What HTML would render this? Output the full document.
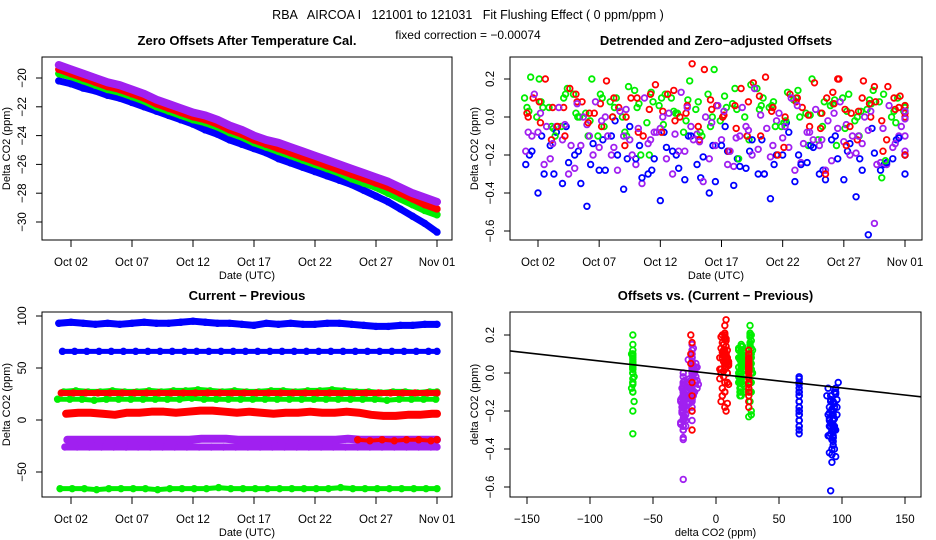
<!DOCTYPE html>
<html><head><meta charset="utf-8">
<style>
html,body{margin:0;padding:0;background:#fff;}
svg{display:block;font-family:"Liberation Sans",sans-serif;}
.pre{white-space:pre;}
</style></head>
<body>
<svg id="chart" width="936" height="540" viewBox="0 0 936 540">
<text class="pre" xml:space="preserve" x="468" y="19" text-anchor="middle" font-size="12.5">RBA   AIRCOA I   121001 to 121031   Fit Flushing Effect ( 0 ppm/ppm )</text>
<text x="468" y="39" text-anchor="middle" font-size="12">fixed correction = −0.00074</text>
</svg>
<script>
// ---------- data ----------
const dayTicks = [1,6,11,16,21,26,31];
const dayTickLabels = ["Oct 02","Oct 07","Oct 12","Oct 17","Oct 22","Oct 27","Nov 01"];
const zeroDays = [0,1,2,3,4,5,6,7,8,9,10,11,12,13,14,15,16,17,18,19,20,21,22,23,24,25,26,27,28,29,30,31];
const zeroBlue   = [-20.2,-20.4,-20.7,-20.9,-21.2,-21.4,-21.7,-22.0,-22.3,-22.6,-22.9,-23.2,-23.6,-23.9,-24.3,-24.6,-24.9,-25.2,-25.6,-25.9,-26.2,-26.5,-26.8,-27.1,-27.4,-27.8,-28.2,-28.6,-29.1,-29.6,-30.1,-30.7];
const zeroGreen  = [-19.7,-19.9,-20.2,-20.5,-20.8,-21.0,-21.3,-21.6,-22.0,-22.3,-22.6,-22.9,-23.1,-23.4,-23.8,-24.1,-24.5,-24.8,-25.1,-25.4,-25.7,-26.0,-26.3,-26.6,-27.0,-27.3,-27.6,-28.0,-28.4,-28.8,-29.2,-29.5];
const zeroRed    = [-19.4,-19.7,-20.0,-20.3,-20.6,-20.8,-21.1,-21.4,-21.8,-22.1,-22.4,-22.7,-22.9,-23.2,-23.6,-23.9,-24.3,-24.6,-24.9,-25.2,-25.5,-25.8,-26.1,-26.4,-26.7,-27.0,-27.3,-27.6,-28.0,-28.4,-28.8,-29.1];
const zeroPurple = [-19.1,-19.4,-19.7,-20.0,-20.3,-20.5,-20.8,-21.1,-21.5,-21.8,-22.1,-22.4,-22.6,-22.9,-23.3,-23.6,-24.0,-24.3,-24.5,-24.8,-25.1,-25.4,-25.7,-26.0,-26.3,-26.6,-26.9,-27.2,-27.6,-28.0,-28.3,-28.6];

// sub-series: current-previous values and detrended offsets
const greenA_cp  = [-66,-66,-66,-67,-66,-66,-66,-66,-67,-66,-66,-66,-66,-65,-66,-66,-66,-66,-66,-66,-66,-66,-66,-65,-66,-66,-66,-66,-66,-66,-66,-66];
const greenA_off = [0.05,0.2,-0.05,0.1,0.02,-0.1,0.12,0.0,-0.08,0.05,-0.2,0.1,0.03,-0.02,0.08,-0.05,0.0,0.15,-0.1,0.04,0.06,-0.03,0.1,-0.15,0.02,0.07,-0.06,0.0,0.09,-0.32,0.03,0.05];
const greenB_cp  = [20,20,20,19,20,20,20,20,20,20,20,21,20,20,20,20,20,20,20,20,20,20,20,20,20,20,20,19,20,20,20,20];
const greenB_off = [0.1,0.0,0.05,-0.05,0.12,0.02,-0.1,0.08,0.0,0.14,-0.03,0.06,0.1,-0.08,0.04,0.12,-0.02,0.07,0.0,0.15,0.05,-0.05,0.09,0.02,-0.12,0.06,0.1,-0.02,0.04,0.08,0.0,0.03];
const greenC_cp  = [27,28,27,27,28,27,27,28,27,28,28,29,28,27,28,27,27,28,28,27,28,28,29,28,27,27,26,27,27,26,27,27];
const greenC_off = [0.21,0.05,-0.1,0.15,0.0,0.2,-0.05,0.1,0.16,-0.2,0.08,0.12,0.02,0.19,-0.1,0.25,0.05,-0.22,0.17,0.1,-0.05,0.13,0.0,0.2,0.08,-0.15,0.12,0.03,0.14,-0.23,0.1,0.06];
const greenD_cp  = [18,19,21,22,19,18,20,21,22,19,18,20,22,21,19,18,20,21,19,22,18,20,21,19,18,22,20,19,21,18,20,22];
const greenD_off = [0.03,0.08,-0.06,0.12,0.0,-0.02,0.1,0.05,-0.1,0.07,0.13,-0.04,0.02,0.09,-0.08,0.0,0.11,0.04,-0.12,0.06,0.08,-0.02,0.14,0.01,-0.05,0.09,0.03,-0.1,0.07,0.12,-0.03,0.05];
const redA_cp    = [-19,-20,-19,-20,-19,-19,-20,-19];
const redA_off   = [-0.3,0.2,-0.05,0.1,0.16,-0.12,0.05,-0.2];
const redB_cp    = [6,7,7,6,5,7,7,8,8,7,8,9,9,8,7,8,7,6,7,7,8,7,7,8,7,5,4,4,5,5,6,6];
const redB_off   = [0.1,0.2,-0.05,0.15,0.08,0.02,0.19,0.05,0.1,-0.1,0.17,0.12,0.0,0.28,0.25,0.06,-0.18,0.15,0.18,0.21,-0.2,0.12,0.05,0.18,0.1,0.2,0.02,0.19,0.08,0.16,0.11,0.06];
const redD_cp    = [4,9,5,10,6,3,8,9,4,7,10,5,8,3,9,6,4,10,7,5,8,9,3,6,10,4,7,5,9,6,8,4];
const redD_off   = [0.02,0.08,-0.12,0.05,0.12,-0.03,0.07,0.0,-0.15,0.1,0.04,-0.08,0.14,0.02,-0.05,0.09,0.0,0.06,-0.1,0.11,0.03,-0.16,0.08,0.01,-0.06,0.13,0.04,-0.12,0.07,-0.02,0.1,0.0];
const redC_cp    = [26,26,26,26,26,26,26,26,26,26,26,26,26,26,26,26,26,26,26,26,26,26,26,26,26,26,26,26,26,26,26,26];
const redC_off   = [0.0,-0.03,0.05,-0.1,0.08,0.02,-0.05,0.1,0.0,-0.08,0.12,0.03,-0.02,0.06,-0.12,0.04,0.01,-0.06,0.08,-0.1,0.05,0.0,0.1,-0.05,0.02,0.07,-0.15,0.03,0.0,-0.18,0.04,0.02];
const purpleA_cp = [-26,-26,-26,-26,-26,-26,-26,-26,-26,-26,-26,-26,-26,-26,-26,-26,-26,-26,-26,-26,-26,-26,-26,-26,-26,-26,-26,-26,-26,-26,-26,-26];
const purpleA_off= [-0.1,-0.25,-0.05,-0.3,-0.15,-0.2,0.0,-0.28,-0.12,-0.35,-0.08,-0.22,-0.18,-0.05,-0.34,-0.15,-0.25,-0.1,-0.2,-0.3,-0.02,-0.16,-0.24,-0.12,-0.28,-0.06,-0.2,-0.14,-0.56,-0.25,-0.1,-0.18];
const purpleC_cp = [-25,-27,-24,-26,-28,-25,-23,-27,-26,-24,-28,-25,-26,-27,-24,-26,-25,-28,-23,-26,-27,-25,-24,-26,-28,-25,-27,-24,-26,-25,-27,-26];
const purpleC_off= [-0.18,-0.08,-0.22,-0.12,-0.27,-0.04,-0.16,-0.2,-0.1,-0.25,-0.14,-0.06,-0.3,-0.18,-0.09,-0.22,-0.12,-0.26,-0.05,-0.17,-0.21,-0.11,-0.28,-0.08,-0.15,-0.23,-0.13,-0.19,-0.07,-0.24,-0.16,-0.1];
const purpleB_cp = [-19,-19,-19,-19,-19,-19,-19,-19,-19,-19,-19,-18,-18,-18,-19,-19,-19,-19,-19,-19,-19,-19,-19,-18,-19,-19,-19,-19,-19,-19,-19,-19];
const purpleB_off= [0.12,-0.05,0.05,-0.15,0.0,0.08,-0.1,0.03,-0.2,0.1,-0.08,0.02,0.13,-0.12,0.0,0.06,-0.18,0.05,0.15,-0.06,0.02,0.1,-0.14,0.04,-0.02,0.08,-0.1,0.0,-0.25,0.06,-0.05,0.03];
const purpleD_cp = [-21,-17,-20,-15,-22,-18,-16,-21,-19,-14,-20,-17,-22,-16,-19,-21,-15,-18,-20,-17,-22,-16,-19,-15,-21,-18,-20,-17,-16,-22,-19,-18];
const purpleD_off= [-0.08,0.02,-0.14,-0.04,0.07,-0.1,-0.02,-0.16,0.04,-0.06,-0.12,0.0,-0.09,0.05,-0.13,-0.03,0.03,-0.11,-0.07,0.01,-0.15,-0.05,0.06,-0.08,-0.12,0.02,-0.04,-0.1,0.03,-0.06,-0.14,-0.01];
const blueA_cp   = [66,66,66,66,66,66,66,66,66,66,66,66,66,66,66,66,66,66,66,66,66,66,66,66,66,66,66,66,66,66,66,66];
const blueA_off  = [-0.2,-0.1,-0.3,-0.05,-0.18,-0.25,-0.12,-0.02,-0.22,-0.15,-0.28,-0.08,-0.2,-0.1,-0.32,-0.15,-0.05,-0.22,-0.18,-0.12,-0.25,-0.03,-0.2,-0.15,-0.28,-0.1,-0.18,-0.22,-0.06,-0.25,-0.12,-0.2];
const blueB_cp   = [93,94,93,92,93,92,93,94,93,93,94,95,94,93,93,92,91,93,92,93,92,92,93,93,92,91,90,90,91,91,92,92];
const blueB_off  = [-0.25,-0.4,-0.15,-0.35,-0.2,-0.47,-0.28,-0.1,-0.38,-0.22,-0.3,-0.44,-0.18,-0.33,-0.25,-0.4,-0.15,-0.36,-0.27,-0.3,-0.43,-0.2,-0.34,-0.24,-0.3,-0.12,-0.33,-0.42,-0.62,-0.28,-0.22,-0.3];
const blueC_cp   = [90,95,89,94,92,96,90,93,97,91,89,94,92,95,90,93,96,91,88,94,92,95,90,93,89,96,91,94,92,90,95,93];
const blueC_off  = [-0.18,-0.3,-0.08,-0.24,-0.35,-0.14,-0.28,-0.2,-0.05,-0.32,-0.22,-0.16,-0.27,-0.1,-0.21,-0.34,-0.18,-0.26,-0.12,-0.3,-0.2,-0.08,-0.25,-0.16,-0.33,-0.22,-0.14,-0.28,-0.19,-0.24,-0.11,-0.2];
const fitSlope = [-0.00074];
const fitIntercept = [-0.005];

// ---------- rendering ----------
const NS = "http://www.w3.org/2000/svg";
const svg = document.getElementById("chart");
function mk(tag, attrs, parent){ const e=document.createElementNS(NS,tag); for(const k in attrs) e.setAttribute(k,attrs[k]); (parent||svg).appendChild(e); return e; }
function lin(d0,d1,r0,r1){ return v => r0 + (v-d0)*(r1-r0)/(d1-d0); }

const COL = {blue:"#0000ff", green:"#00ee00", red:"#ff0000", purple:"#a020f0"};
const subs = [
 {name:"green-a",col:"green",start:-0.2,cp:greenA_cp,off:greenA_off,phase:0.3,w:5,line:true},
 {name:"blue-a",col:"blue",start:-0.2,cp:blueA_cp,off:blueA_off,phase:0.5,w:5,line:true},
 {name:"green-b",col:"green",start:-0.2,cp:greenB_cp,off:greenB_off,phase:0.1,w:5,line:true},
 {name:"green-d",col:"green",start:-0.2,cp:greenD_cp,off:greenD_off,phase:0.45,w:5,line:false},
 {name:"purple-a",col:"purple",start:-0.2,cp:purpleA_cp,off:purpleA_off,phase:0.7,w:7,line:true},
 {name:"purple-c",col:"purple",start:-0.2,cp:purpleC_cp,off:purpleC_off,phase:0.2,w:7,line:false},
 {name:"blue-b",col:"blue",start:-0.2,cp:blueB_cp,off:blueB_off,phase:0.2,w:7,line:true},
 {name:"blue-c",col:"blue",start:-0.2,cp:blueC_cp,off:blueC_off,phase:0.7,w:7,line:false},
 {name:"green-c",col:"green",start:-0.2,cp:greenC_cp,off:greenC_off,phase:0.6,w:6,line:true},
 {name:"red-c",col:"red",start:-0.2,cp:redC_cp,off:redC_off,phase:0.4,w:6,line:true},
 {name:"red-b",col:"red",start:-0.2,cp:redB_cp,off:redB_off,phase:0.8,w:8,line:true},
 {name:"red-d",col:"red",start:-0.2,cp:redD_cp,off:redD_off,phase:0.3,w:8,line:false},
 {name:"purple-b",col:"purple",start:-0.2,cp:purpleB_cp,off:purpleB_off,phase:0.9,w:8,line:true},
 {name:"purple-d",col:"purple",start:-0.2,cp:purpleD_cp,off:purpleD_off,phase:0.4,w:8,line:false},
 {name:"red-a",col:"red",start:24,cp:redA_cp,off:redA_off,phase:0.5,w:4,line:true}
];
function dayOf(s,i){ return Math.min(31, s.start + i + s.phase); }

function panel(o){
  const g = mk("g",{});
  
  
  const t = mk("text",{x:(o.x0+o.x1)/2,y:o.y0-12,"text-anchor":"middle","font-size":"13","font-weight":"bold"},g);
  t.textContent = o.title;
  
  
  const bx = mk("rect",{x:o.x0,y:o.y0,width:o.x1-o.x0,height:o.y1-o.y0,fill:"none",stroke:"#000","stroke-width":1},g);
  
  
  const xa = mk("g",{},g);
  
  
  const xs=o.xs(o.xt[0]), xe=o.xs(o.xt[o.xt.length-1]);
  mk("line",{x1:xs,x2:xe,y1:o.y1,y2:o.y1,stroke:"#000"},xa);
  o.xt.forEach((v,i)=>{
    const X=o.xs(v);
    mk("line",{x1:X,x2:X,y1:o.y1,y2:o.y1+7,stroke:"#000"},xa);
    const tl=mk("text",{x:X,y:o.y1+26,"text-anchor":"middle","font-size":"11.5"},xa);
    tl.textContent=o.xl[i];
    
    
  });
  const xt=mk("text",{x:(o.x0+o.x1)/2,y:o.y1+39,"text-anchor":"middle","font-size":"11"},g);
  xt.textContent=o.xtitle;
  
  
  const ya = mk("g",{},g);
  
  
  mk("line",{x1:o.x0,x2:o.x0,y1:o.ys(o.yt[0]),y2:o.ys(o.yt[o.yt.length-1]),stroke:"#000"},ya);
  o.yt.forEach((v,i)=>{
    const Y=o.ys(v);
    mk("line",{x1:o.x0-6,x2:o.x0,y1:Y,y2:Y,stroke:"#000"},ya);
    const tl=mk("text",{x:o.x0-16,y:Y,"text-anchor":"middle","font-size":"11.5",transform:`rotate(-90 ${o.x0-16} ${Y})`},ya);
    tl.textContent=o.yl[i];
    
    
  });
  const cy=(o.y0+o.y1)/2, cx=o.x0-32;
  const yt=mk("text",{x:cx,y:cy,"text-anchor":"middle","font-size":"11",transform:`rotate(-90 ${cx} ${cy})`},g);
  yt.textContent=o.ytitle;
  
  
  const clipId="c"+o.name;
  const cp=mk("clipPath",{id:clipId},g); mk("rect",{x:o.x0,y:o.y0,width:o.x1-o.x0,height:o.y1-o.y0},cp);
  const plot=mk("g",{"clip-path":`url(#${clipId})`},g);
  
  
  return plot;
}
function circ(parent,x,y,col,name){
  const c=mk("circle",{cx:x,cy:y,r:2.8,fill:"none",stroke:col,"stroke-width":1.8},parent);
  
  
}

// Panel 1: zero offsets
{
  const xs=lin(1,31,71,437), ys=lin(-20,-30,78,222);
  const p=panel({name:"zero-offsets-panel",title:"Zero Offsets After Temperature Cal.",x0:42,x1:452,y0:57,y1:240,xs,ys,
    xt:dayTicks,xl:dayTickLabels,yt:[-20,-22,-24,-26,-28,-30],yl:["−20","−22","−24","−26","−28","−30"],xtitle:"Date (UTC)",ytitle:"Delta CO2 (ppm)"});
  [["blue",zeroBlue],["green",zeroGreen],["red",zeroRed],["purple",zeroPurple]].forEach(([c,arr])=>{
    const pts=arr.map((v,i)=>`${xs(Math.max(-0.2,zeroDays[i]))},${ys(v)}`).join(" ");
    const pl=mk("polyline",{points:pts,fill:"none",stroke:COL[c],"stroke-width":c==="purple"?8:7,"stroke-linejoin":"round","stroke-linecap":"round"},p);
    
    
    arr.forEach((v,i)=>circ(p,xs(Math.max(-0.2,zeroDays[i])),ys(v),COL[c],'zero-offset-point-'+c));
  });
}
// Panel 2: detrended offsets
{
  const xs=lin(1,31,538,905), ys=lin(0.2,-0.6,79,231);
  const p=panel({name:"detrended-offsets-panel",title:"Detrended and Zero−adjusted Offsets",x0:510,x1:922,y0:57,y1:240,xs,ys,
    xt:dayTicks,xl:dayTickLabels,yt:[0.2,0,-0.2,-0.4,-0.6],yl:["0.2","0.0","−0.2","−0.4","−0.6"],xtitle:"Date (UTC)",ytitle:"Delta CO2 (ppm)"});
  subs.forEach(s=>s.off.forEach((v,i)=>circ(p,xs(dayOf(s,i)),ys(v),COL[s.col],'offset-point-'+s.name)));
}
// Panel 3: current - previous
{
  const xs=lin(1,31,71,437), ys=lin(0,-50,420,472);
  const p=panel({name:"current-previous-panel",title:"Current − Previous",x0:42,x1:452,y0:312,y1:497,xs,ys,
    xt:dayTicks,xl:dayTickLabels,yt:[100,50,0,-50],yl:["100","50","0","−50"],xtitle:"Date (UTC)",ytitle:"Delta CO2 (ppm)"});
  subs.filter(s=>s.line).forEach(s=>{
    const pts=s.cp.map((v,i)=>`${xs(dayOf(s,i))},${ys(v)}`).join(" ");
    const pl=mk("polyline",{points:pts,fill:"none",stroke:COL[s.col],"stroke-width":s.w,"stroke-linejoin":"round","stroke-linecap":"round"},p);
    
    
    s.cp.forEach((v,i)=>circ(p,xs(dayOf(s,i)),ys(v),COL[s.col],'cp-point-'+s.name));
  });
}
// Panel 4: offsets vs current-previous
{
  const xs=lin(-150,150,527,905), ys=lin(0.2,-0.6,335,487);
  const p=panel({name:"offsets-vs-cp-panel",title:"Offsets vs. (Current − Previous)",x0:510,x1:921,y0:312,y1:497,xs,ys,
    xt:[-150,-100,-50,0,50,100,150],xl:["−150","−100","−50","0","50","100","150"],yt:[0.2,0,-0.2,-0.4,-0.6],yl:["0.2","0.0","−0.2","−0.4","−0.6"],xtitle:"delta CO2 (ppm)",ytitle:"delta CO2 (ppm)"});
  subs.forEach(s=>s.off.forEach((v,i)=>circ(p,xs(s.cp[i]),ys(v),COL[s.col],'scatter-point-'+s.name)));
  const fx0=-165, fx1=165;
  const fl=mk("line",{x1:xs(fx0),y1:ys(fitIntercept[0]+fitSlope[0]*fx0),x2:xs(fx1),y2:ys(fitIntercept[0]+fitSlope[0]*fx1),stroke:"#000","stroke-width":1.6},p);
  
  
}
</script>
</body></html>
